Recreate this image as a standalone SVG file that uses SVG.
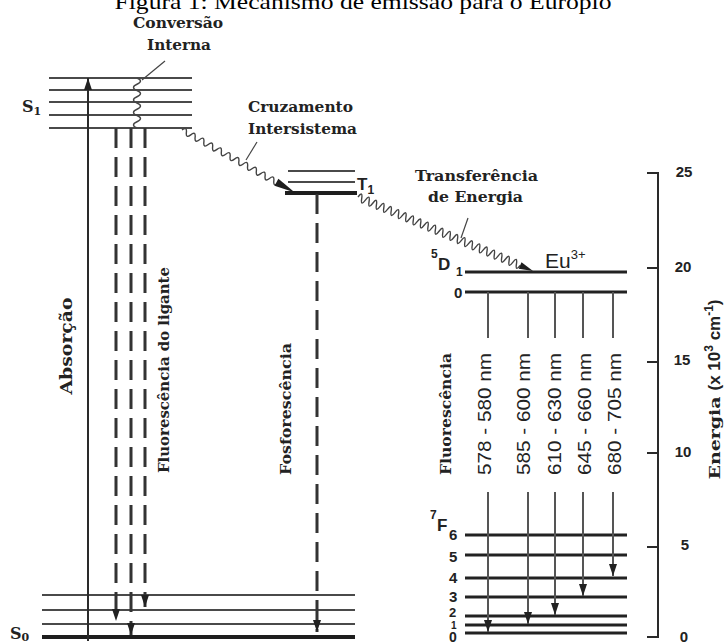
<svg xmlns="http://www.w3.org/2000/svg" width="727" height="643" viewBox="0 0 727 643">
<style>
.lv{stroke:#4a4a4a;stroke-width:2.2;fill:none}
.lvb{stroke:#1e1e1e;stroke-width:4;fill:none}
.lk{stroke:#222;stroke-width:3;fill:none}
.ar{stroke:#2a2a2a;stroke-width:2;fill:none}
.da{stroke:#333;stroke-width:3;stroke-dasharray:20 9;fill:none}
.em{stroke:#555;stroke-width:2;fill:none}
.wv{stroke:#444;stroke-width:1.4;fill:none}
.ld{stroke:#444;stroke-width:1.2;fill:none}
.sb{font-family:"DejaVu Serif","Liberation Serif",serif;font-weight:bold;fill:#222}
.ss{font-family:"Liberation Sans",Arial,sans-serif;fill:#222}
.bd{font-weight:bold}
</style>
<defs>
<marker id="ah" markerUnits="userSpaceOnUse" markerWidth="13" markerHeight="8" refX="12" refY="4" orient="auto"><path d="M0,0 L12,4 L0,8 z" fill="#222"/></marker>
</defs>

<text x="363" y="9" text-anchor="middle" font-family="Liberation Serif, serif" font-size="22" fill="#000" textLength="497" lengthAdjust="spacingAndGlyphs">Figura 1: Mecanismo de emissão para o Európio</text>

<g id="S1">
<line class="lv" x1="49" y1="78" x2="192" y2="78"/>
<line class="lv" x1="49" y1="90" x2="192" y2="90"/>
<line class="lv" x1="49" y1="102" x2="192" y2="102"/>
<line class="lv" x1="49" y1="115" x2="192" y2="115"/>
<line class="lv" x1="49" y1="128" x2="192" y2="128"/>
<text class="sb" x="22" y="112" font-size="16">S<tspan font-size="11" dy="3">1</tspan></text>
</g>

<g id="S0">
<line class="lv" x1="42" y1="595" x2="355" y2="595"/>
<line class="lv" x1="42" y1="610" x2="355" y2="610"/>
<line class="lv" x1="42" y1="624" x2="355" y2="624"/>
<line class="lvb" x1="42" y1="637" x2="355" y2="637"/>
<text class="sb" x="10" y="639" font-size="16">S<tspan font-size="11" dy="2">0</tspan></text>
</g>

<g id="T1">
<line class="lv" x1="288" y1="171" x2="355" y2="171"/>
<line class="lv" x1="288" y1="182" x2="355" y2="182"/>
<line class="lvb" x1="285" y1="193" x2="357" y2="193"/>
<text class="ss bd" x="357" y="190" font-size="17">T<tspan font-size="12" dy="4">1</tspan></text>
</g>

<g id="Eu5D">
<line class="lk" x1="465" y1="272" x2="627" y2="272"/>
<line class="lk" x1="465" y1="292" x2="627" y2="292"/>
<text class="ss" x="545" y="268" font-size="21">Eu<tspan font-size="13" dy="-9">3+</tspan></text>
<text class="ss bd" x="431" y="258" font-size="12">5</text>
<text class="ss bd" x="438" y="270" font-size="17">D</text>
<text class="ss bd" x="456" y="276" font-size="12">1</text>
<text class="ss bd" x="454" y="298" font-size="15">0</text>
</g>

<g id="Eu7F">
<line class="lk" x1="465" y1="535" x2="627" y2="535"/>
<line class="lk" x1="465" y1="555" x2="627" y2="555"/>
<line class="lk" x1="465" y1="578" x2="627" y2="578"/>
<line class="lk" x1="465" y1="597" x2="627" y2="597"/>
<line class="lk" x1="465" y1="616" x2="627" y2="616"/>
<line class="lk" x1="465" y1="625" x2="627" y2="625"/>
<line class="lk" x1="465" y1="633" x2="627" y2="633"/>
<text class="ss bd" x="430" y="519" font-size="12">7</text>
<text class="ss bd" x="437" y="531" font-size="17">F</text>
<text class="ss bd" x="449" y="540" font-size="15">6</text>
<text class="ss bd" x="449" y="562" font-size="15">5</text>
<text class="ss bd" x="449" y="583" font-size="15">4</text>
<text class="ss bd" x="449" y="602" font-size="15">3</text>
<text class="ss bd" x="449" y="617" font-size="13">2</text>
<text class="ss bd" x="451" y="629" font-size="10">1</text>
<text class="ss bd" x="449" y="642" font-size="14">0</text>
</g>

<g id="axis">
<path class="ar" d="M647,173 H658 V637 H647" stroke-width="2.5"/>
<line class="ar" x1="647" y1="268" x2="658" y2="268"/>
<line class="ar" x1="647" y1="362" x2="658" y2="362"/>
<line class="ar" x1="647" y1="453" x2="658" y2="453"/>
<line class="ar" x1="647" y1="547" x2="658" y2="547"/>
<g class="ss bd" font-size="15" text-anchor="middle">
<text x="684" y="177">25</text>
<text x="683" y="272">20</text>
<text x="682" y="365">15</text>
<text x="683" y="457">10</text>
<text x="685" y="550">5</text>
<text x="684" y="642">0</text>
</g>
<text class="sb" transform="translate(720,438) rotate(-90)" text-anchor="middle" font-size="14" textLength="83" lengthAdjust="spacingAndGlyphs">Energia</text>
<text class="ss bd" transform="translate(720,345) rotate(-90)" text-anchor="middle" font-size="17">(x 10<tspan font-size="12" dy="-7">3</tspan><tspan dy="7"> cm</tspan><tspan font-size="12" dy="-7">-1</tspan><tspan dy="7">)</tspan></text>
</g>

<g id="labels">
<text class="sb" x="178" y="28" text-anchor="middle" font-size="14" textLength="90" lengthAdjust="spacingAndGlyphs">Conversão</text>
<text class="sb" x="179" y="50" text-anchor="middle" font-size="14" textLength="64" lengthAdjust="spacingAndGlyphs">Interna</text>
<text class="sb" x="248" y="112" font-size="14" textLength="105" lengthAdjust="spacingAndGlyphs">Cruzamento</text>
<text class="sb" x="248" y="134" font-size="14" textLength="109" lengthAdjust="spacingAndGlyphs">Intersistema</text>
<text class="sb" x="415" y="181" font-size="14" textLength="123" lengthAdjust="spacingAndGlyphs">Transferência</text>
<text class="sb" x="428" y="202" font-size="14" textLength="95" lengthAdjust="spacingAndGlyphs">de Energia</text>
<text class="sb" transform="translate(72,346) rotate(-90)" text-anchor="middle" font-size="16" textLength="97" lengthAdjust="spacingAndGlyphs">Absorção</text>
<text class="sb" transform="translate(169,370) rotate(-90)" text-anchor="middle" font-size="14" textLength="206" lengthAdjust="spacingAndGlyphs">Fluorescência do ligante</text>
<text class="sb" transform="translate(291,409) rotate(-90)" text-anchor="middle" font-size="14" textLength="132" lengthAdjust="spacingAndGlyphs">Fosforescência</text>
<text class="sb" transform="translate(451,414) rotate(-90)" text-anchor="middle" font-size="14" textLength="122" lengthAdjust="spacingAndGlyphs">Fluorescência</text>
<g class="ss" font-size="19" text-anchor="middle">
<text transform="translate(491,414) rotate(-90)" textLength="122" lengthAdjust="spacingAndGlyphs">578 - 580 nm</text>
<text transform="translate(530,414) rotate(-90)" textLength="122" lengthAdjust="spacingAndGlyphs">585 - 600 nm</text>
<text transform="translate(561,414) rotate(-90)" textLength="122" lengthAdjust="spacingAndGlyphs">610 - 630 nm</text>
<text transform="translate(591,414) rotate(-90)" textLength="122" lengthAdjust="spacingAndGlyphs">645 - 660 nm</text>
<text transform="translate(621,414) rotate(-90)" textLength="122" lengthAdjust="spacingAndGlyphs">680 - 705 nm</text>
</g>
</g>

<g id="connectors">
<line class="ar" x1="88" y1="641" x2="88" y2="78" marker-end="url(#ah)"/>
<line class="da" x1="116" y1="128" x2="116" y2="621" marker-end="url(#ah)"/>
<line class="da" x1="131" y1="128" x2="131" y2="635" marker-end="url(#ah)"/>
<line class="da" x1="145" y1="128" x2="145" y2="607" marker-end="url(#ah)"/>
<line class="da" x1="317" y1="194" x2="317" y2="632" marker-end="url(#ah)"/>
<path class="wv" d="M137,78 q7,3.1 0,6.25 t0,6.25 t0,6.25 t0,6.25 t0,6.25 t0,6.25 t0,6.25 t0,6.25"/>
<line class="ld" x1="142" y1="80" x2="165" y2="61"/>
<g transform="translate(182,130) rotate(29)">
<path class="wv" d="M0,0 q2.5,-6 5,0 t5,0 t5,0 t5,0 t5,0 t5,0 t5,0 t5,0 t5,0 t5,0 t5,0 t5,0 t5,0 t5,0 t5,0 t5,0 t5,0 t5,0 t5,0 t5,0 t5,0 t5,0"/>
<polygon points="108,-4 129,0 108,4" fill="#1e1e1e"/>
</g>
<line class="ld" x1="257" y1="142" x2="246" y2="160"/>
<g transform="translate(358,197) rotate(22.9)">
<path class="wv" stroke-width="1.6" d="M0,0 q2,-8 4,0 t4,0 t4,0 t4,0 t4,0 t4,0 t4,0 t4,0 t4,0 t4,0 t4,0 t4,0 t4,0 t4,0 t4,0 t4,0 t4,0 t4,0 t4,0 t4,0 t4,0 t4,0 t4,0 t4,0 t4,0 t4,0 t4,0 t4,0 t4,0 t4,0 t4,0 t4,0 t4,0 t4,0 t4,0 t4,0 t4,0 t4,0 t4,0 t4,0 t4,0 t4,0 t4,0 t4,0"/>
<polygon points="176,-3.5 190,0 176,3.5" fill="#1e1e1e"/>
</g>
<line class="ld" x1="468" y1="218" x2="461" y2="238"/>
<g class="em">
<line x1="488" y1="292" x2="488" y2="338"/>
<line x1="528" y1="292" x2="528" y2="338"/>
<line x1="555" y1="292" x2="555" y2="338"/>
<line x1="583" y1="292" x2="583" y2="338"/>
<line x1="613" y1="292" x2="613" y2="338"/>
<line x1="488" y1="492" x2="488" y2="632" marker-end="url(#ah)"/>
<line x1="528" y1="492" x2="528" y2="624" marker-end="url(#ah)"/>
<line x1="555" y1="492" x2="555" y2="615" marker-end="url(#ah)"/>
<line x1="583" y1="492" x2="583" y2="596" marker-end="url(#ah)"/>
<line x1="613" y1="492" x2="613" y2="576" marker-end="url(#ah)"/>
</g>
</g>
</svg>
